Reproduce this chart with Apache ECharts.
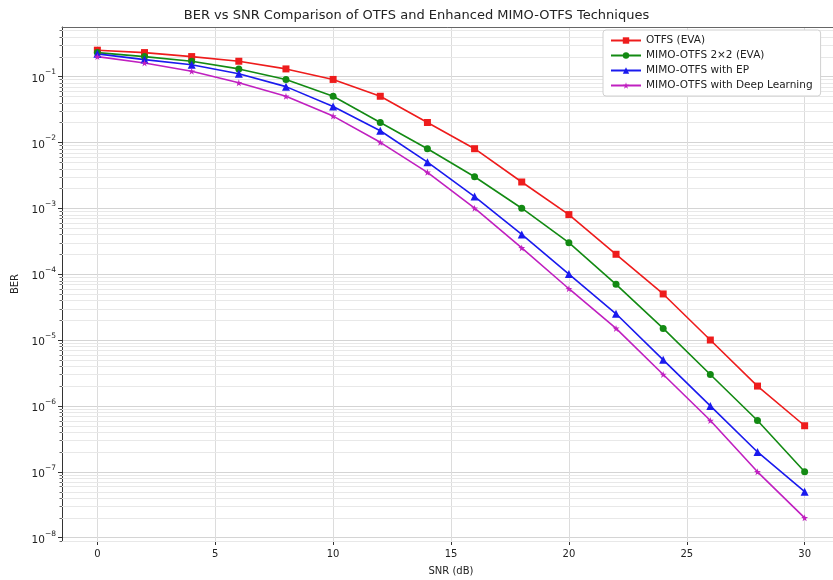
<!DOCTYPE html>
<html style="height: 100%">
<head>
  <meta charset="utf-8">
  <title>BER vs SNR</title>
  <script src="https://cdn.jsdelivr.net/npm/echarts@6/dist/echarts.min.js"></script>
</head>
<body style="height: 100%; margin: 0; background: #fff">
  <div id="main" style="width: 833px; height: 580px"></div>
  <script type="text/javascript">
    // SNR points (dB)
    var snr = [0, 2, 4, 6, 8, 10, 12, 14, 16, 18, 20, 22, 24, 26, 28, 30];

    var berOtfs = [0.25, 0.23, 0.2, 0.17, 0.13, 0.09, 0.05, 0.02, 0.008, 0.0025, 8e-4, 2e-4, 5e-5, 1e-5, 2e-6, 5e-7];
    var berMimo = [0.23, 0.2, 0.17, 0.13, 0.09, 0.05, 0.02, 0.008, 0.003, 0.001, 3e-4, 7e-5, 1.5e-5, 3e-6, 6e-7, 1e-7];
    var berEp = [0.22, 0.18, 0.15, 0.11, 0.07, 0.035, 0.015, 0.005, 0.0015, 4e-4, 1e-4, 2.5e-5, 5e-6, 1e-6, 2e-7, 5e-8];
    var berDl = [0.2, 0.16, 0.12, 0.08, 0.05, 0.025, 0.01, 0.0035, 0.001, 2.5e-4, 6e-5, 1.5e-5, 3e-6, 6e-7, 1e-7, 2e-8];

    var names = ['OTFS (EVA)', 'MIMO-OTFS 2\u00d72 (EVA)', 'MIMO-OTFS with EP', 'MIMO-OTFS with Deep Learning'];

    var font = 'DejaVu Sans';
    var star = 'path://M50,0 L61,35 L98,35 L68,57 L79,91 L50,70 L21,91 L32,57 L2,35 L39,35 Z';
    var yMin = Math.pow(10, -8.05), yMax = Math.pow(10, -0.25);

    function pairs(ys) {
      return snr.map(function (x, i) { return [x, ys[i]]; });
    }

    // log minor grid: 2..9 x 10^k
    var minorVals = [];
    for (var k = -9; k <= 0; k++) {
      for (var m = 2; m <= 9; m++) {
        var v = m * Math.pow(10, k);
        if (v > yMin && v < yMax) minorVals.push([0, v]);
      }
    }

    function minorGrid(params, api) {
      var cs = params.coordSys;
      var y = Math.round(api.coord([0, api.value(1)])[1]) + 0.5;
      return {
        type: 'group',
        silent: true,
        children: [
          { type: 'line', shape: { x1: cs.x, y1: y, x2: cs.x + cs.width, y2: y },
            style: { stroke: '#e8e8e8', lineWidth: 1 } },
          { type: 'line', shape: { x1: cs.x - 2.5, y1: y, x2: cs.x, y2: y },
            style: { stroke: '#444', lineWidth: 0.8 } }
        ]
      };
    }

    function lineSeries(name, ys, color, symbol, size) {
      return {
        name: name,
        type: 'line',
        data: pairs(ys),
        symbol: symbol,
        symbolSize: size,
        z: 5,
        lineStyle: { color: color, width: 1.6 },
        itemStyle: { color: color }
      };
    }

    var option = {
      animation: false,
      backgroundColor: '#fff',
      title: {
        text: 'BER vs SNR Comparison of OTFS and Enhanced MIMO-OTFS Techniques',
        left: 'center',
        top: 4,
        textStyle: { fontFamily: font, fontSize: 13, fontWeight: 'normal', color: '#222' }
      },
      legend: {
        data: names,
        orient: 'vertical',
        left: 603,
        top: 30,
        itemWidth: 30,
        itemHeight: 8,
        itemGap: 4,
        padding: [5, 8, 5, 7],
        borderColor: '#d0d0d0',
        borderWidth: 1,
        borderRadius: 3,
        backgroundColor: '#fff',
        textStyle: { fontFamily: font, fontSize: 10.5, color: '#222' }
      },
      grid: {
        left: 62,
        width: 778,
        top: 27,
        bottom: 39,
        outerBoundsMode: 'none'
      },
      xAxis: [
        {
          type: 'value',
          min: -1.5,
          max: 31.5,
          splitNumber: 6,
          name: 'SNR (dB)',
          nameLocation: 'middle',
          nameGap: 25,
          nameTextStyle: { fontFamily: font, fontSize: 10, color: '#222' },
          axisLine: { onZero: false, lineStyle: { color: '#333' } },
          axisTick: { lineStyle: { color: '#333' }, length: 4 },
          axisLabel: {
            fontFamily: font, fontSize: 10, color: '#222', margin: 8,
            showMinLabel: false, showMaxLabel: false,
            formatter: function (v) { return v % 5 === 0 ? String(v) : ''; }
          },
          splitLine: { show: true, lineStyle: { color: '#dcdcdc', width: 1 } }
        },
        {
          // top frame line only
          type: 'value',
          position: 'top',
          min: -1.5,
          max: 31.5,
          axisLine: { show: true, onZero: false, lineStyle: { color: '#666' } },
          axisTick: { show: false },
          axisLabel: { show: false },
          splitLine: { show: false }
        }
      ],
      yAxis: {
        type: 'log',
        logBase: 10,
        min: yMin,
        max: yMax,
        splitNumber: 8,
        name: 'BER',
        nameLocation: 'middle',
        nameGap: 42,
        nameTextStyle: { fontFamily: font, fontSize: 10, color: '#222' },
        axisLine: { show: true, onZero: false, lineStyle: { color: '#333' } },
        axisTick: { show: true, lineStyle: { color: '#333' }, length: 4 },
        axisLabel: {
          showMinLabel: false, showMaxLabel: false,
          margin: 6,
          formatter: function (v) {
            var e = Math.round(Math.log10(v));
            if (Math.abs(Math.log10(v) - e) > 0.01) return '';
            return '{b|10}{s|\u2212' + Math.abs(e) + '}';
          },
          rich: {
            b: { fontFamily: font, fontSize: 10.5, color: '#222', verticalAlign: 'bottom', lineHeight: 16 },
            s: { fontFamily: font, fontSize: 7.5, color: '#222', verticalAlign: 'top', lineHeight: 16 }
          }
        },
        splitLine: { show: true, lineStyle: { color: '#d4d4d4', width: 1 } }
      },
      series: [
        {
          name: 'minor-grid',
          type: 'custom',
          data: minorVals,
          z: 1,
          silent: true,
          renderItem: minorGrid
        },
        lineSeries(names[0], berOtfs, '#ee1c1c', 'rect', 7),
        lineSeries(names[1], berMimo, '#138a13', 'circle', 7),
        lineSeries(names[2], berEp, '#1a1aee', 'triangle', 8),
        lineSeries(names[3], berDl, '#c020c0', star, 7)
      ]
    };

    var chart = echarts.init(document.getElementById('main'));
    chart.setOption(option);
  </script>
</body>
</html>
